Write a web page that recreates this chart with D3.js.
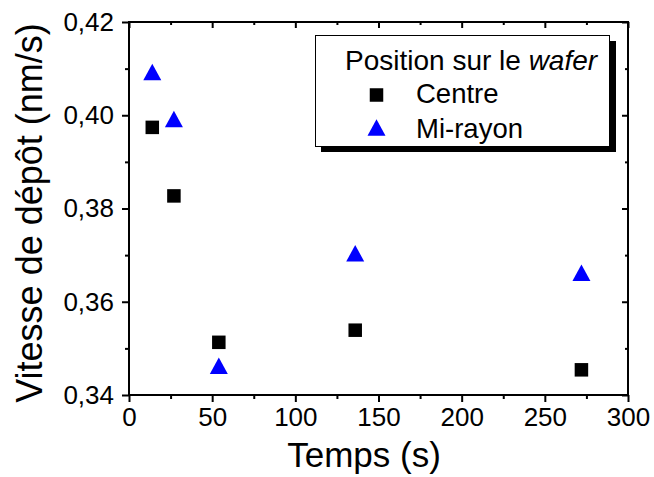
<!DOCTYPE html>
<html>
<head>
<meta charset="utf-8">
<script src="https://cdn.jsdelivr.net/npm/d3@7"></script>
<style>
  body { margin: 0; background: white; }
  svg { display: block; font-family: "Liberation Sans", Arial, sans-serif; }
</style>
</head>
<body>
<svg id="chart" width="654" height="477"></svg>
<script>
// data
var temps = [14, 27, 54, 136, 272];
var centre = [0.3974, 0.3827, 0.3513, 0.3539, 0.3454];
var miRayon = [0.4093, 0.3992, 0.3463, 0.3704, 0.3662];
var xTicks = [0, 50, 100, 150, 200, 250, 300];
var xMinor = [25, 75, 125, 175, 225, 275];
var yTicks = [0.34, 0.36, 0.38, 0.40, 0.42];
var yMinor = [0.35, 0.37, 0.39, 0.41];

var svg = d3.select("#chart");
var pLeft = 129, pRight = 628, pTop = 22, pBottom = 395;

var x = d3.scaleLinear().domain([0, 300]).range([pLeft, pRight]);
var y = d3.scaleLinear().domain([0.34, 0.42]).range([pBottom, pTop]);

var fr = d3.formatLocale({ decimal: ",", thousands: " ", grouping: [3], currency: ["", ""] });
var fmt = fr.format(".2f");

// bottom axis, major + minor
svg.append("g").attr("transform", "translate(0," + pBottom + ")")
  .call(d3.axisBottom(x).tickValues(xTicks).tickSize(7).tickSizeOuter(0).tickPadding(6));
svg.append("g").attr("transform", "translate(0," + pBottom + ")")
  .call(d3.axisBottom(x).tickValues(xMinor).tickSize(4).tickSizeOuter(0).tickFormat(""));

// left axis
svg.append("g").attr("transform", "translate(" + pLeft + ",0)")
  .call(d3.axisLeft(y).tickValues(yTicks).tickSize(7).tickSizeOuter(0).tickPadding(8).tickFormat(fmt));
svg.append("g").attr("transform", "translate(" + pLeft + ",0)")
  .call(d3.axisLeft(y).tickValues(yMinor).tickSize(4).tickSizeOuter(0).tickFormat(""));

// top and right axes, ticks pointing inside
svg.append("g").attr("transform", "translate(0," + pTop + ")")
  .call(d3.axisTop(x).tickValues(xTicks).tickSize(-6).tickSizeOuter(0).tickFormat(""));
svg.append("g").attr("transform", "translate(0," + pTop + ")")
  .call(d3.axisTop(x).tickValues(xMinor).tickSize(-3).tickSizeOuter(0).tickFormat(""));
svg.append("g").attr("transform", "translate(" + pRight + ",0)")
  .call(d3.axisRight(y).tickValues(yTicks).tickSize(-6).tickSizeOuter(0).tickFormat(""));
svg.append("g").attr("transform", "translate(" + pRight + ",0)")
  .call(d3.axisRight(y).tickValues(yMinor).tickSize(-3).tickSizeOuter(0).tickFormat(""));

svg.selectAll(".domain").remove();
svg.selectAll(".tick line").attr("stroke", "black").attr("stroke-width", 2);
svg.selectAll(".tick text")
  .attr("fill", "black")
  .style("font-size", "26px")
  .style("font-family", "'Liberation Sans', Arial, sans-serif");

// frame
svg.append("rect")
  .attr("x", pLeft).attr("y", pTop)
  .attr("width", pRight - pLeft).attr("height", pBottom - pTop)
  .attr("fill", "none").attr("stroke", "black").attr("stroke-width", 2);

// axis titles
svg.append("text")
  .attr("x", 364).attr("y", 467)
  .attr("text-anchor", "middle")
  .style("font-size", "35px")
  .text("Temps (s)");

svg.append("text")
  .attr("transform", "translate(42,213) rotate(-90)")
  .attr("text-anchor", "middle")
  .style("font-size", "36px")
  .text("Vitesse de dépôt (nm/s)");

// markers
var sq = 13.5;
svg.selectAll(".centre")
  .data(temps)
  .enter()
  .append("rect")
  .attr("x", function (d) { return x(d) - sq / 2; })
  .attr("y", function (d, i) { return y(centre[i]) - sq / 2; })
  .attr("width", sq)
  .attr("height", sq)
  .attr("fill", "black");

var tw = 18, th = 16.5;
function tri(cx, cy) {
  return "M" + cx + "," + (cy - th / 2) +
    "L" + (cx + tw / 2) + "," + (cy + th / 2) +
    "L" + (cx - tw / 2) + "," + (cy + th / 2) + "Z";
}
svg.selectAll(".mi")
  .data(temps)
  .enter()
  .append("path")
  .attr("d", function (d, i) { return tri(x(d), y(miRayon[i])); })
  .attr("fill", "#0000ff");

// legend
var lg = svg.append("g");
lg.append("rect")
  .attr("x", 321).attr("y", 41).attr("width", 295).attr("height", 111)
  .attr("fill", "black");
lg.append("rect")
  .attr("x", 315.5).attr("y", 35.5).attr("width", 294).attr("height", 111)
  .attr("fill", "white").attr("stroke", "black").attr("stroke-width", 1);

var title = lg.append("text").attr("x", 345).attr("y", 70).style("font-size", "28px");
title.append("tspan").text("Position sur le ");
title.append("tspan").style("font-style", "italic").text("wafer");

lg.append("rect")
  .attr("x", 376.5 - sq / 2).attr("y", 95 - sq / 2)
  .attr("width", sq).attr("height", sq).attr("fill", "black");
lg.append("text").attr("x", 416).attr("y", 103).style("font-size", "27.5px").text("Centre");

lg.append("path").attr("d", tri(376.5, 127.5)).attr("fill", "#0000ff");
lg.append("text").attr("x", 416).attr("y", 138).style("font-size", "27.5px").text("Mi-rayon");
</script>
</body>
</html>
